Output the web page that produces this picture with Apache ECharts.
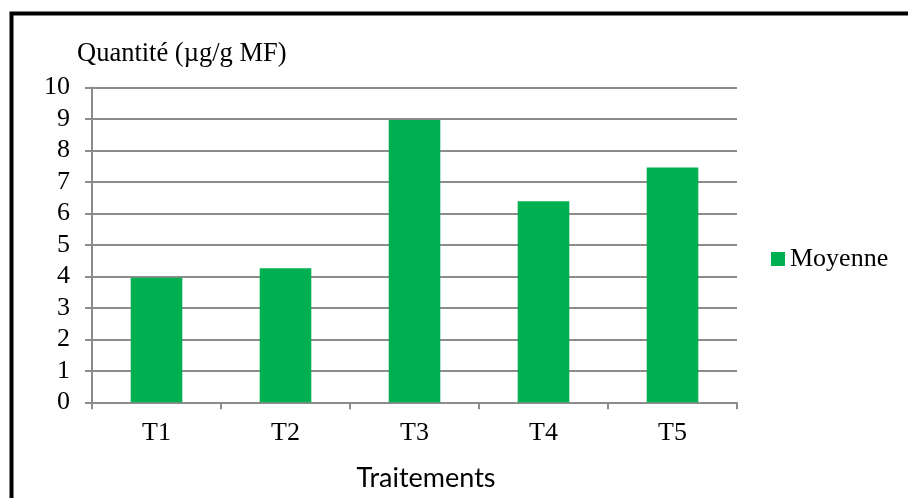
<!DOCTYPE html>
<html>
<head>
<meta charset="utf-8">
<script src="https://cdn.jsdelivr.net/npm/echarts@6/dist/echarts.min.js"></script>
<style>
  html, body { margin: 0; padding: 0; background: #fff; }
  #chart { width: 908px; height: 498px; }
</style>
</head>
<body>
<div id="chart"></div>
<script>
// Treatments on the x axis and the mean quantity measured for each
const categories = ['T1', 'T2', 'T3', 'T4', 'T5'];
const moyenne = [3.96, 4.26, 8.97, 6.39, 7.46];
const yTicks = { min: 0, max: 10, interval: 1 };
const seriesName = 'Moyenne';
const yTitle = 'Quantité (µg/g MF)';
const xTitle = 'Traitements';

const serif = '"Liberation Serif", "Times New Roman", serif';
const gridGrey = '#8c8c8c';

const chart = echarts.init(document.getElementById('chart'), null, { renderer: 'canvas' });

chart.setOption({
  animation: false,
  backgroundColor: '#fff',
  title: {
    text: yTitle,
    left: 77,
    top: 41,
    padding: 0,
    textStyle: { fontFamily: serif, fontSize: 26.5, fontWeight: 'normal', color: '#000' }
  },
  legend: {
    data: [seriesName],
    left: 771,
    top: 246,
    padding: 0,
    itemWidth: 14,
    itemHeight: 14,
    icon: 'rect',
    textStyle: { fontFamily: serif, fontSize: 26, color: '#000' }
  },
  grid: { left: 92, right: 171, top: 87.5, bottom: 95.7, containLabel: false },
  xAxis: {
    type: 'category',
    data: categories,
    boundaryGap: true,
    axisLine: { lineStyle: { color: gridGrey, width: 2 } },
    axisTick: { show: true, length: 7, lineStyle: { color: gridGrey, width: 2 } },
    axisLabel: { margin: 18, fontFamily: serif, fontSize: 26, color: '#000' },
    splitLine: { show: false }
  },
  yAxis: {
    type: 'value',
    min: yTicks.min,
    max: yTicks.max,
    interval: yTicks.interval,
    axisLine: { show: true, lineStyle: { color: gridGrey, width: 2 } },
    axisTick: { show: true, length: 7, lineStyle: { color: gridGrey, width: 2 } },
    axisLabel: { margin: 22, fontFamily: serif, fontSize: 26, color: '#000' },
    splitLine: { show: true, lineStyle: { color: gridGrey, width: 2 } }
  },
  series: [{
    name: seriesName,
    type: 'bar',
    data: moyenne,
    barCategoryGap: '60%',
    itemStyle: { color: '#00B050' }
  }],
  graphic: [
    {
      type: 'polyline',
      shape: { points: [[11.5, 498], [11.5, 13.5], [908, 13.5]] },
      style: { stroke: '#000', lineWidth: 4, fill: null },
      z: 100
    },
    {
      type: 'text',
      x: 426,
      y: 478,
      style: {
        text: xTitle,
        fontFamily: 'Lato, "Open Sans", sans-serif',
        fontSize: 27,
        fill: '#000',
        align: 'center',
        verticalAlign: 'middle'
      }
    }
  ]
});
</script>
</body>
</html>
